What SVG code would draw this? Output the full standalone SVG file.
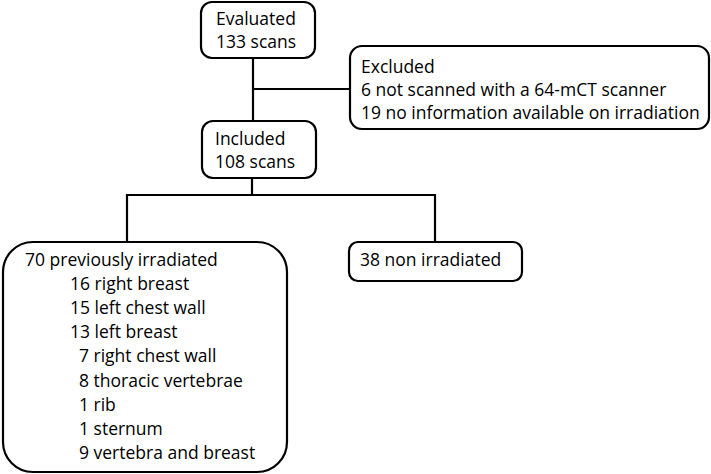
<svg xmlns="http://www.w3.org/2000/svg" width="711" height="474" viewBox="0 0 711 474">
<style>
.box{fill:#fff;stroke:#000;stroke-width:2.2}
.t{font-family:"Open Sans","Liberation Sans",sans-serif;font-size:17.5px;fill:#000}
.c{fill:none;stroke:#000;stroke-width:2.2}
</style>
<rect width="711" height="474" fill="#fff"/>
<g id="connectors">
<path class="c" d="M253,58 V121"/>
<path class="c" d="M253,89 H350"/>
<path class="c" d="M252,178 V195"/>
<path class="c" d="M127,242 V195 H435 V242"/>
</g>
<g id="evaluated">
<rect class="box" x="201" y="2" width="114" height="56" rx="11"/>
<text class="t" x="216" y="25">Evaluated</text>
<text class="t" x="216" y="48">133 scans</text>
</g>
<g id="excluded">
<rect class="box" x="350" y="46" width="359" height="83" rx="12"/>
<text class="t" x="361" y="73">Excluded</text>
<text class="t" x="361" y="96">6 not scanned with a 64-mCT scanner</text>
<text class="t" x="361" y="119">19 no information available on irradiation</text>
</g>
<g id="included">
<rect class="box" x="202" y="121" width="114" height="57" rx="11"/>
<text class="t" x="215" y="145">Included</text>
<text class="t" x="215" y="168">108 scans</text>
</g>
<g id="irradiated">
<rect class="box" x="3" y="242" width="284" height="230" rx="30"/>
<text class="t" x="25" y="266">70 previously irradiated</text>
<text class="t" x="70" y="290">16 right breast</text>
<text class="t" x="70" y="314">15 left chest wall</text>
<text class="t" x="70" y="338">13 left breast</text>
<text class="t" x="79" y="362">7 right chest wall</text>
<text class="t" x="79" y="387">8 thoracic vertebrae</text>
<text class="t" x="79" y="411">1 rib</text>
<text class="t" x="79" y="435">1 sternum</text>
<text class="t" x="79" y="459">9 vertebra and breast</text>
</g>
<g id="nonirradiated">
<rect class="box" x="349" y="242" width="173" height="39" rx="9"/>
<text class="t" x="360" y="266">38 non irradiated</text>
</g>
</svg>
